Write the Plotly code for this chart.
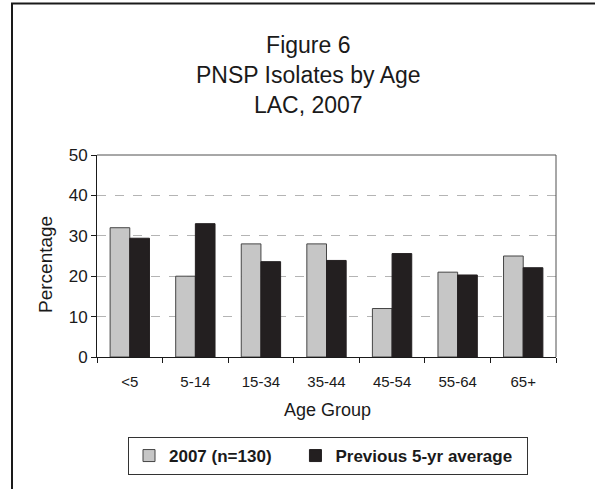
import plotly.graph_objects as go

# Age groups and percentages of PNSP isolates
age_groups = ["<5", "5-14", "15-34", "35-44", "45-54", "55-64", "65+"]
pct_2007 = [32, 20, 28, 28, 12, 21, 25]
pct_prev_avg = [29.4, 33.0, 23.6, 23.9, 25.6, 20.3, 22.1]
series_names = ["2007 (n=130)", "Previous 5-yr average"]
y_ticks = [0, 10, 20, 30, 40, 50]

FONT = "Liberation Sans, Arial, Helvetica, sans-serif"
NBSP = "\u00a0"

fig = go.Figure()
fig.add_trace(go.Bar(
    x=age_groups, y=pct_2007, name=series_names[0] + NBSP * 4,
    marker=dict(color="#c6c6c6", line=dict(color="#454545", width=1)),
))
fig.add_trace(go.Bar(
    x=age_groups, y=pct_prev_avg, name=series_names[1] + NBSP * 2,
    marker=dict(color="#231f20", line=dict(color="#231f20", width=1)),
))

# plot area occupies x 97..556, y 155..357 px
L, R, T, B = 97, 39, 155, 132
W, H = 595, 489
pw, ph = W - L - R, H - T - B

def px(x):
    return (x - L) / pw

def py(y):
    return (H - B - y) / ph

fig.update_layout(
    width=W, height=H,
    margin=dict(l=L, r=R, t=T, b=B),
    paper_bgcolor="white", plot_bgcolor="white",
    font=dict(family=FONT, color="#1a1a1a"),
    barmode="group", bargap=0.4, bargroupgap=0,
    showlegend=True,
    legend=dict(
        orientation="h", xanchor="left", yanchor="top",
        x=px(128), y=py(437),
        bordercolor="#333333", borderwidth=1, bgcolor="white",
        font=dict(family=FONT, size=17, color="#1a1a1a", weight="bold"),
        itemwidth=30,
    ),
    xaxis=dict(
        type="category", showgrid=False,
        showline=True, linecolor="#1a1a1a", linewidth=1,
        ticks="outside", tickson="boundaries", ticklen=5, tickcolor="#1a1a1a",
        tickfont=dict(family=FONT, size=15, color="#1a1a1a"),
        ticklabelstandoff=11,
    ),
    yaxis=dict(
        range=[0, 50], tickvals=y_ticks,
        showline=True, linecolor="#1a1a1a", linewidth=1,
        ticks="outside", ticklen=5, tickcolor="#1a1a1a",
        tickfont=dict(family=FONT, size=17, color="#1a1a1a"),
        showgrid=True, gridcolor="#b4b4b4", griddash="dash", gridwidth=1,
        zeroline=False,
    ),
    shapes=[
        # outer frame
        dict(type="rect", xref="paper", yref="paper",
             x0=px(12), x1=px(610), y0=py(505), y1=py(3.5),
             line=dict(color="#1a1a1a", width=2), layer="below"),
        # plot area border (top/right)
        dict(type="line", xref="paper", yref="paper",
             x0=0, x1=1, y0=1, y1=1, line=dict(color="#505050", width=1)),
        dict(type="line", xref="paper", yref="paper",
             x0=1, x1=1, y0=0, y1=1, line=dict(color="#505050", width=1)),
    ],
    annotations=[
        dict(text="Figure 6<br>PNSP Isolates by Age<br>LAC, 2007",
             xref="paper", yref="paper", x=px(308), y=py(74.5),
             xanchor="center", yanchor="middle", showarrow=False,
             font=dict(family=FONT, size=23, color="#1a1a1a")),
        dict(text="Percentage", textangle=-90,
             xref="paper", yref="paper", x=px(45), y=py(265),
             xanchor="center", yanchor="middle", showarrow=False,
             font=dict(family=FONT, size=19, color="#1a1a1a")),
        dict(text="Age Group",
             xref="paper", yref="paper", x=px(327), y=py(410),
             xanchor="center", yanchor="middle", showarrow=False,
             font=dict(family=FONT, size=18, color="#1a1a1a")),
    ],
)

fig.write_html("out.html")
